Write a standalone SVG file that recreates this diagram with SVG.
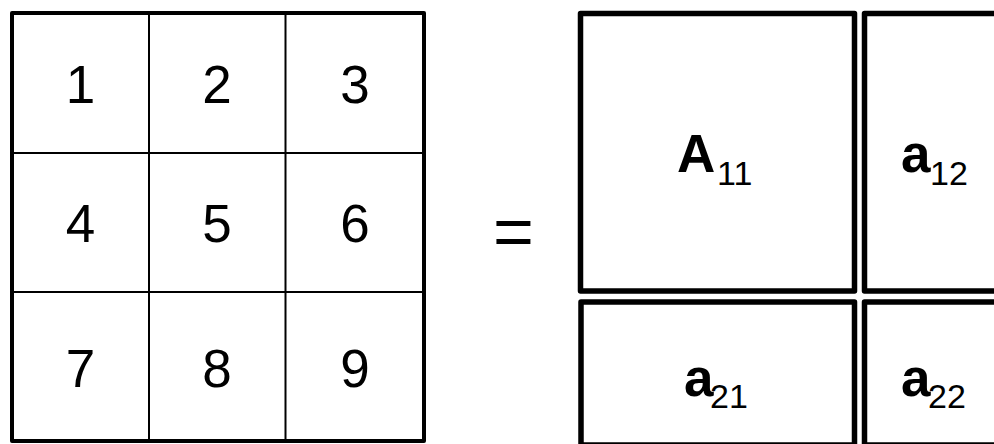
<svg xmlns="http://www.w3.org/2000/svg" width="994" height="444" viewBox="0 0 994 444">
<style>
.bg{fill:#fff}
.outer{fill:none;stroke:#000;stroke-width:4;stroke-linejoin:round}
.inner{stroke:#000;stroke-width:2}
.blk{fill:#fff;stroke:#000;stroke-width:5.5;stroke-linejoin:round}
.num{font-family:"Liberation Sans",Arial,sans-serif;font-size:53px;fill:#000;text-anchor:middle}
.big{font-family:"Liberation Sans",Arial,sans-serif;font-size:53px;font-weight:bold;fill:#000}
.sub{font-family:"Liberation Sans",Arial,sans-serif;font-size:34px;font-weight:normal;fill:#000}
</style>
<rect class="bg" x="0" y="0" width="994" height="444"/>
<g id="grid">
  <rect class="outer" x="12" y="13" width="412" height="428"/>
  <line class="inner" x1="149" y1="13" x2="149" y2="441"/>
  <line class="inner" x1="285.5" y1="13" x2="285.5" y2="441"/>
  <line class="inner" x1="12" y1="153" x2="424" y2="153"/>
  <line class="inner" x1="12" y1="292" x2="424" y2="292"/>
  <text class="num" x="80.5" y="103">1</text>
  <text class="num" x="217" y="103">2</text>
  <text class="num" x="355" y="103">3</text>
  <text class="num" x="80.5" y="242">4</text>
  <text class="num" x="217" y="242">5</text>
  <text class="num" x="355" y="242">6</text>
  <text class="num" x="80.5" y="387">7</text>
  <text class="num" x="217" y="387">8</text>
  <text class="num" x="355" y="387">9</text>
</g>
<g id="equals">
  <text class="num" x="513.5" y="256" style="font-size:70px">=</text>
</g>
<g id="A11">
  <rect class="blk" x="580.5" y="13.5" width="274" height="277.5"/>
  <text class="big" x="677" y="172">A<tspan class="sub" x="717" y="184.5">11</tspan></text>
</g>
<g id="a12">
  <rect class="blk" x="864.5" y="13.5" width="140" height="277.5"/>
  <text class="big" x="901" y="172">a<tspan class="sub" x="930" y="184.5">12</tspan></text>
</g>
<g id="a21">
  <rect class="blk" x="581" y="302" width="273.5" height="143"/>
  <text class="big" x="684" y="395.5">a<tspan class="sub" x="710" y="407.5">21</tspan></text>
</g>
<g id="a22">
  <rect class="blk" x="864.5" y="302" width="140" height="143"/>
  <text class="big" x="901" y="395.5">a<tspan class="sub" x="928" y="407.5">22</tspan></text>
</g>
<g id="connectors"></g>
</svg>
